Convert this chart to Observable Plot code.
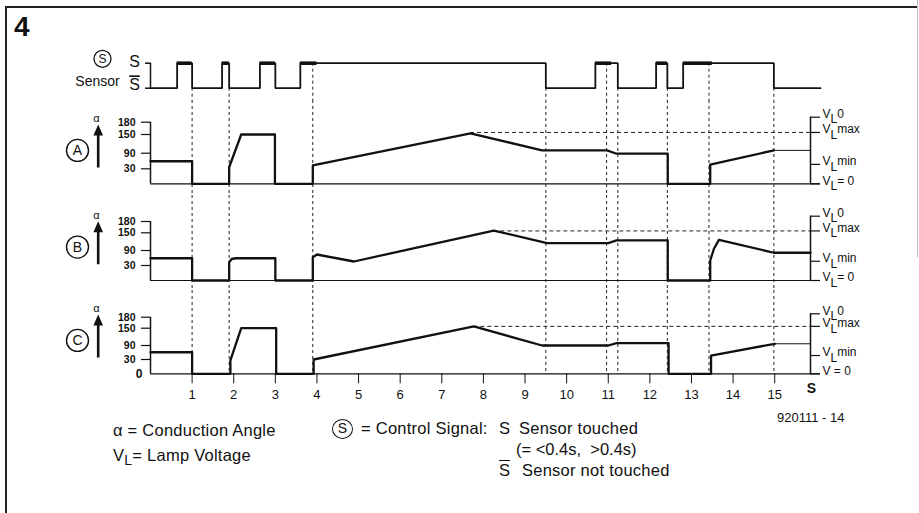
<!DOCTYPE html>
<html><head><meta charset="utf-8">
<script src="https://cdn.jsdelivr.net/npm/d3@7"></script>
<script src="https://cdn.jsdelivr.net/npm/@observablehq/plot@0.6"></script>
<style>
html,body{margin:0;padding:0;background:#fff;overflow:hidden}
#wrap{position:relative;width:919px;height:513px;font-family:"Liberation Sans",Arial,sans-serif;color:#111;overflow:hidden}
.abs{position:absolute;line-height:1;white-space:pre}
.panel{position:absolute;left:0}
.panel svg{background:transparent}
.circ{position:absolute;box-sizing:border-box;border:1.5px solid #111;border-radius:50%;text-align:center}
.ovl{text-decoration:overline}
</style></head><body><div id="wrap"></div>
<script>
// ---------- data ----------
const timeTicks = [1, 2, 3, 4, 5, 6, 7, 8, 9, 10, 11, 12, 13, 14, 15];
const alphaTicks = [30, 90, 150, 180];

// control signal: touch start / end (s) and end of the short (<0.4 s) part
const sensorOn       = [0.64, 1.72, 2.63, 3.6, 10.69, 12.15, 12.8];
const sensorOff      = [1.0, 1.89, 3.0, 9.5, 11.23, 12.42, 14.98];
const sensorShortEnd = [1.0, 1.89, 3.0, 4.0, 11.08, 12.42, 13.5];

// dashed marker lines (s)
const markerTimes = [1, 1.89, 3.9, 9.5, 10.96, 11.23, 12.42, 13.42, 14.98];

// lamp voltage levels on the alpha scale: VL0, VLmax, VLmin, VL=0
const vlLevels = [192, 155, 47, 0];
const vlLabelsAB = ["V_L0", "V_Lmax", "V_Lmin", "V_L= 0"];
const vlLabelsC  = ["V_L0", "V_Lmax", "V_Lmin", "V = 0"];
const vlMaxFrom = [7.69, 8.25, 7.77];   // start of the dashed VLmax line, panels A, B, C

// panel A: conduction angle
const aTime  = [0, 1, 1, 1.89, 1.89, 2.18, 2.99, 2.99, 3.9, 3.9, 7.69, 9.41, 10.97, 11.2, 12.43, 12.43, 13.45, 13.45, 14.98];
const aAlpha = [59, 59, 0, 0, 36, 150, 150, 0, 0, 43, 153, 99, 99, 88, 88, 0, 0, 46, 99];
const aTailTime = [14.98, 15.86], aTailAlpha = [99, 99];

// panel B
const bTime  = [0, 1, 1, 1.89, 1.89, 1.95, 2.05, 3.0, 3.0, 3.9, 3.9, 4.0, 4.89, 8.25, 9.53, 11.0, 11.2, 12.43, 12.43, 13.45, 13.45, 13.54, 13.66, 14.98, 15.86];
const bAlpha = [59, 59, 0, 0, 43, 56, 59, 59, 0, 0, 63, 74, 46, 156, 115, 115, 124, 124, 0, 0, 50, 96, 126, 81, 81];

// panel C
const cTime  = [0, 1, 1, 1.92, 1.92, 2.18, 3.02, 3.02, 3.92, 3.92, 7.77, 9.41, 11.0, 11.2, 12.45, 12.45, 13.47, 13.47, 15.0];
const cAlpha = [61, 61, 0, 0, 28, 150, 150, 0, 0, 30, 155, 90, 90, 98, 98, 0, 0, 47, 96];
const cTailTime = [15.0, 15.86], cTailAlpha = [96, 96];

// ---------- layout ----------
const X_END = 15.86, X_TAIL = 16.1;
const PX_PER_S = 660 / X_END;
const FONT = '"Liberation Sans", Arial, sans-serif';
const wrap = document.getElementById("wrap");

function place(node, top) {
  const d = document.createElement("div");
  d.className = "panel"; d.style.top = top + "px";
  d.appendChild(node); wrap.appendChild(d);
}
function fixTexts(svg) {
  const ns = "http://www.w3.org/2000/svg";
  svg.querySelectorAll("text").forEach(t => {
    const s = t.textContent;
    if (s === "S\u0304") { t.textContent = "S"; t.style.textDecoration = "overline"; return; }
    if (!s.includes("_L")) return;
    const [pre, post] = s.split("_L");
    t.textContent = "";
    const a = document.createElementNS(ns, "tspan"); a.textContent = pre;
    const b = document.createElementNS(ns, "tspan"); b.setAttribute("dy", "0.45em"); b.textContent = "L";
    const c = document.createElementNS(ns, "tspan"); c.setAttribute("dy", "-0.45em"); c.textContent = post;
    t.append(a, b, c);
  });
}
const arrowSymbol = {draw(ctx) {
  ctx.moveTo(-1.3, 0); ctx.lineTo(-1.3, -32); ctx.lineTo(-4.8, -32); ctx.lineTo(0, -43);
  ctx.lineTo(4.8, -32); ctx.lineTo(1.3, -32); ctx.lineTo(1.3, 0); ctx.closePath();
}};
const style = {fontFamily: FONT, fontSize: "11px", color: "#111", background: "transparent", overflow: "visible"};
const mid = {textAnchor: "middle", lineAnchor: "middle"};

// ---------- sensor row ----------
const sensorPts = [{t: 0, s: 0}];
sensorOn.forEach((on, i) => {
  sensorPts.push({t: on, s: 0}, {t: on, s: 1}, {t: sensorOff[i], s: 1}, {t: sensorOff[i], s: 0});
});
sensorPts.push({t: X_TAIL, s: 0});
const isHigh = t => sensorOn.some((on, i) => t > on && t < sensorOff[i]);
const shortParts = sensorOn.map((on, i) => ({x1: on, x2: sensorShortEnd[i]}));
const S_BASE = 87.7, S_HIGH = 62.7, S_H = 100;
const S_BOTTOM = -(S_H - S_BASE) / (S_BASE - S_HIGH);

const sensorPlot = Plot.plot({
  width: 919, height: S_H, marginLeft: 150, marginRight: 109, marginTop: 0, marginBottom: 0,
  x: {domain: [0, X_END], range: [150, 810], axis: null},
  y: {domain: [0, 1], range: [S_BASE, S_HIGH], axis: null},
  style,
  marks: [
    Plot.ruleX(markerTimes, {x: d => d, y1: d => isHigh(d) ? 1 : 0, y2: S_BOTTOM, stroke: "#222", strokeWidth: 1, strokeDasharray: "3,3"}),
    Plot.line(sensorPts, {x: "t", y: "s", stroke: "#111", strokeWidth: 1.8, strokeLinejoin: "miter"}),
    Plot.ruleY(shortParts, {y: 1, x1: "x1", x2: "x2", stroke: "#111", strokeWidth: 3.6}),
    Plot.ruleX([0], {x: d => d, y1: 0, y2: 1, stroke: "#111", strokeWidth: 1.5}),
    Plot.ruleY([0, 1], {y: d => d, x1: -5 / PX_PER_S, x2: 0, stroke: "#111", strokeWidth: 1.5}),
    Plot.text([1], {x: 0, y: d => d, text: () => "S", dx: -16, dy: -1, fontSize: 16, ...mid}),
    Plot.text([0], {x: 0, y: d => d, text: () => "S\u0304", dx: -16, dy: -3, fontSize: 16, ...mid}),
    Plot.dot(["S"], {frameAnchor: "top-left", dx: -48, dy: 58.3, r: 8.5, stroke: "#111", strokeWidth: 1.3, fill: "white"}),
    Plot.text(["S"], {frameAnchor: "top-left", dx: -48, dy: 58.8, text: d => d, fontSize: 12, ...mid}),
    Plot.text(["Sensor"], {frameAnchor: "top-left", dx: -53, dy: 81, text: d => d, fontSize: 14, ...mid})
  ]
});
fixTexts(sensorPlot);
place(sensorPlot, 0);

// ---------- alpha panels ----------
// pixel height above the baseline of the printed alpha ticks 0, 30, 90, 150, 180 and VL0
const panels = [
  {name: "A", top: 100, h: 95, base: 83.3, px: [0, 15, 30.6, 49.3, 61.6, 66.6],
   time: aTime, alpha: aAlpha, tailT: aTailTime, tailA: aTailAlpha, labels: vlLabelsAB, vlFrom: vlMaxFrom[0]},
  {name: "B", top: 195, h: 95, base: 85, px: [0, 15, 30, 47.7, 59, 64.3],
   time: bTime, alpha: bAlpha, tailT: null, tailA: null, labels: vlLabelsAB, vlFrom: vlMaxFrom[1]},
  {name: "C", top: 290, h: 120, base: 83.3, px: [0, 14.3, 28.3, 45.6, 56.6, 60],
   time: cTime, alpha: cAlpha, tailT: cTailTime, tailA: cTailAlpha, labels: vlLabelsC, vlFrom: vlMaxFrom[2], axis: true}
];

panels.forEach(p => {
  const warp = d3.scaleLinear().domain([0, 30, 90, 150, 180, vlLevels[0]]).range(p.px);
  const wave = p.time.map((t, i) => ({t, a: p.alpha[i]}));
  const tail = p.tailT ? p.tailT.map((t, i) => ({t, a: p.tailA[i]})) : [];
  const mb = p.axis ? p.h - p.base : 0;
  const marks = [
    Plot.ruleX(markerTimes, {x: d => d, stroke: "#222", strokeWidth: 1, strokeDasharray: "3,3"}),
    Plot.ruleY([vlLevels[1]], {y: d => d, x1: p.vlFrom, x2: X_END, stroke: "#222", strokeWidth: 1, strokeDasharray: "4,3"}),
    Plot.ruleY([0], {y: d => d, x1: 0, x2: X_TAIL, stroke: "#111", strokeWidth: 1.2}),
    Plot.ruleX([0], {x: d => d, y1: 0, y2: alphaTicks[alphaTicks.length - 1], stroke: "#111", strokeWidth: 1.5}),
    Plot.ruleY(alphaTicks, {y: d => d, x1: -9 / PX_PER_S, x2: 0, stroke: "#111", strokeWidth: 1.2}),
    Plot.text(alphaTicks, {x: 0, y: d => d, text: d => String(d), dx: -15, textAnchor: "end", lineAnchor: "middle", fontSize: 10.5, fontWeight: "bold"}),
    Plot.ruleX([X_END], {x: d => d, y1: 0, y2: vlLevels[0], stroke: "#111", strokeWidth: 1.5}),
    Plot.ruleY(vlLevels, {y: d => d, x1: X_END, x2: X_TAIL, stroke: "#111", strokeWidth: 1.2}),
    Plot.text(vlLevels, {x: X_TAIL, y: d => d, text: (d, i) => p.labels[i], textAnchor: "start", lineAnchor: "middle", dx: 2, dy: -3, fontSize: 12}),
    Plot.line(tail, {x: "t", y: "a", stroke: "#111", strokeWidth: 1}),
    Plot.line(wave, {x: "t", y: "a", stroke: "#111", strokeWidth: 2.3}),
    Plot.dot([p.name], {frameAnchor: "top-left", dx: -73, dy: p.base - 33.4, r: 11, stroke: "#111", strokeWidth: 1.4, fill: "white"}),
    Plot.text([p.name], {frameAnchor: "top-left", dx: -73, dy: p.base - 33.4, text: d => d, fontSize: 14, ...mid}),
    Plot.text(["\u03b1"], {frameAnchor: "top-left", dx: -54, dy: p.base - 65.3, text: d => d, fontSize: 11, ...mid}),
    Plot.dot([p.name], {frameAnchor: "top-left", dx: -52.3, dy: p.base - 16.3, r: 5, symbol: arrowSymbol, fill: "#111", stroke: "none"})
  ];
  if (p.axis) {
    marks.push(
      Plot.axisX({ticks: timeTicks, tickSize: 10, tickPadding: 6, fontSize: 13, label: null, stroke: "#111"}),
      Plot.text([0], {x: 0, y: d => d, text: d => String(d), dx: -8, textAnchor: "end", lineAnchor: "middle", fontSize: 12, fontWeight: "bold"}),
      Plot.text([X_END], {x: d => d, frameAnchor: "bottom", dy: 14.4, dx: 1, text: () => "S", fontSize: 14, fontWeight: "bold", ...mid})
    );
  }
  const plot = Plot.plot({
    width: 919, height: p.h, marginLeft: 150, marginRight: 109, marginTop: 0, marginBottom: mb,
    x: p.axis ? {domain: [0, X_END], range: [150, 810]} : {domain: [0, X_END], range: [150, 810], axis: null},
    y: {transform: v => warp(v), domain: [p.base - p.h, p.base], range: [p.h, 0], axis: null},
    style,
    marks
  });
  fixTexts(plot);
  place(plot, p.top);
});

// ---------- texts, legend, frame ----------
function txt(s, left, top, size, extra) {
  const d = document.createElement("div");
  d.className = "abs"; d.style.left = left + "px"; d.style.top = top + "px";
  d.style.fontSize = size + "px";
  if (extra) Object.assign(d.style, extra);
  d.innerHTML = s; wrap.appendChild(d); return d;
}
const LG = 16.5, LS = {letterSpacing: "0.25px"};
txt("4", 14, 13, 28, {fontWeight: "bold"});
txt("\u03b1 = Conduction Angle", 113, 422, LG, LS);
txt("V<span style=\"position:relative;top:4px;font-size:14px\">L</span>= Lamp Voltage", 113, 447, LG, LS);
const c = txt("S", 332, 419, 14, {width: "21px", height: "20px"});
c.className = "abs circ"; c.style.lineHeight = "17px";
txt("= Control Signal:", 361, 420, LG, LS);
txt("S", 499, 420, LG);
txt("Sensor touched", 519, 420, LG, LS);
txt("(= &lt;0.4s,  &gt;0.4s)", 516, 440.5, LG);
txt("<span class=\"ovl\">S</span>", 499, 461.5, LG);
txt("Sensor not touched", 522, 461.5, LG, LS);
txt("920111 - 14", 777, 411, 13);

function line(left, top, w, h, color) {
  const d = document.createElement("div");
  Object.assign(d.style, {position: "absolute", left: left + "px", top: top + "px", width: w + "px", height: h + "px", background: color});
  wrap.appendChild(d);
}
line(5, 6, 913, 2, "#222");
line(5, 6, 2, 507, "#222");
line(917, 0, 1, 257, "#bbb");
</script></body></html>
